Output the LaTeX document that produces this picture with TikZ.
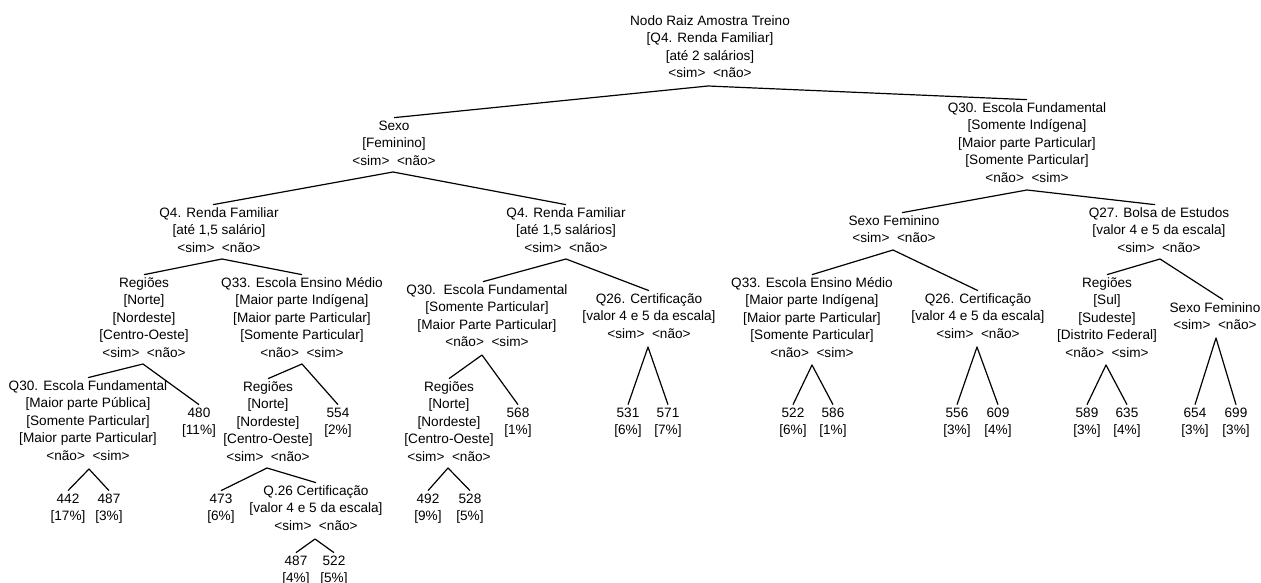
\documentclass[tikz,border=0pt]{standalone}
\usepackage{fontspec}
\setmainfont{Liberation Sans}
\newcommand{\tstrut}{\rule{0pt}{12.25pt}}
\tikzset{
  tn/.style={align=center, inner sep=0pt, anchor=north, yshift=7.35pt,
    font=\fontsize{13.6}{17.5}\selectfont},
  br/.style={line width=1.2pt, line join=round}
}
\begin{document}
\begin{tikzpicture}[x=1pt,y=1pt]
\useasboundingbox (0,0) rectangle (1261,-583);
% level 0
\node[tn] (root) at (710,-20) {\tstrut Nodo Raiz Amostra Treino\\{}[Q4. Renda Familiar]\\{}[até 2 salários]\\<sim>\ \ <não>};
% level 1
\node[tn] (sexo) at (394,-125) {\tstrut Sexo\\{}[Feminino]\\<sim>\ \ <não>};
\node[tn] (q30r) at (1027,-107) {\tstrut Q30. Escola Fundamental\\{}[Somente Indígena]\\{}[Maior parte Particular]\\{}[Somente Particular]\\<não>\ \ <sim>};
% level 2
\node[tn] (q4a) at (219,-212) {\tstrut Q4. Renda Familiar\\{}[até 1,5 salário]\\<sim>\ \ <não>};
\node[tn] (q4b) at (566,-212) {\tstrut Q4. Renda Familiar\\{}[até 1,5 salários]\\<sim>\ \ <não>};
\node[tn] (sfa) at (894,-220) {\tstrut Sexo Feminino\\<sim>\ \ <não>};
\node[tn] (q27) at (1159,-212) {\tstrut Q27. Bolsa de Estudos\\{}[valor 4 e 5 da escala]\\<sim>\ \ <não>};
% level 3
\node[tn] (rega) at (144,-282) {\tstrut Regiões\\{}[Norte]\\{}[Nordeste]\\{}[Centro-Oeste]\\<sim>\ \ <não>};
\node[tn] (q33a) at (302,-282) {\tstrut Q33. Escola Ensino Médio\\{}[Maior parte Indígena]\\{}[Maior parte Particular]\\{}[Somente Particular]\\<não>\ \ <sim>};
\node[tn] (q30m) at (487,-289) {\tstrut Q30.\ \ Escola Fundamental\\{}[Somente Particular]\\{}[Maior Parte Particular]\\<não>\ \ <sim>};
\node[tn] (q26m) at (649,-298) {\tstrut Q26. Certificação\\{}[valor 4 e 5 da escala]\\<sim>\ \ <não>};
\node[tn] (q33b) at (812,-282) {\tstrut Q33. Escola Ensino Médio\\{}[Maior parte Indígena]\\{}[Maior parte Particular]\\{}[Somente Particular]\\<não>\ \ <sim>};
\node[tn] (q26r) at (978,-298) {\tstrut Q26. Certificação\\{}[valor 4 e 5 da escala]\\<sim>\ \ <não>};
\node[tn] (regs) at (1107,-282) {\tstrut Regiões\\{}[Sul]\\{}[Sudeste]\\{}[Distrito Federal]\\<não>\ \ <sim>};
\node[tn] (sfb) at (1215,-307) {\tstrut Sexo Feminino\\<sim>\ \ <não>};
% level 4
\node[tn] (q30a) at (88,-385) {\tstrut Q30. Escola Fundamental\\{}[Maior parte Pública]\\{}[Somente Particular]\\{}[Maior parte Particular]\\<não>\ \ <sim>};
\node[tn] (l480) at (199,-412) {\tstrut 480\\{}[11\%]};
\node[tn] (regb) at (268,-386) {\tstrut Regiões\\{}[Norte]\\{}[Nordeste]\\{}[Centro-Oeste]\\<sim>\ \ <não>};
\node[tn] (l554) at (338,-412) {\tstrut 554\\{}[2\%]};
\node[tn] (regc) at (449,-386) {\tstrut Regiões\\{}[Norte]\\{}[Nordeste]\\{}[Centro-Oeste]\\<sim>\ \ <não>};
\node[tn] (l568) at (518,-412) {\tstrut 568\\{}[1\%]};
\node[tn] (l531) at (628,-412) {\tstrut 531\\{}[6\%]};
\node[tn] (l571) at (668,-412) {\tstrut 571\\{}[7\%]};
\node[tn] (l522a) at (793,-412) {\tstrut 522\\{}[6\%]};
\node[tn] (l586) at (833,-412) {\tstrut 586\\{}[1\%]};
\node[tn] (l556) at (957,-412) {\tstrut 556\\{}[3\%]};
\node[tn] (l609) at (998,-412) {\tstrut 609\\{}[4\%]};
\node[tn] (l589) at (1087,-412) {\tstrut 589\\{}[3\%]};
\node[tn] (l635) at (1127,-412) {\tstrut 635\\{}[4\%]};
\node[tn] (l654) at (1195,-412) {\tstrut 654\\{}[3\%]};
\node[tn] (l699) at (1236,-412) {\tstrut 699\\{}[3\%]};
% level 5
\node[tn] (l442) at (68,-498) {\tstrut 442\\{}[17\%]};
\node[tn] (l487a) at (109,-498) {\tstrut 487\\{}[3\%]};
\node[tn] (l473) at (221,-498) {\tstrut 473\\{}[6\%]};
\node[tn] (q26b) at (316,-490) {\tstrut Q.26 Certificação\\{}[valor 4 e 5 da escala]\\<sim>\ \ <não>};
\node[tn] (l492) at (428,-498) {\tstrut 492\\{}[9\%]};
\node[tn] (l528) at (470,-498) {\tstrut 528\\{}[5\%]};
% level 6
\node[tn] (l487b) at (296,-560) {\tstrut 487\\{}[4\%]};
\node[tn] (l522b) at (334,-560) {\tstrut 522\\{}[5\%]};
% branch points
\coordinate (rootB) at (708,-86);
\coordinate (sexoB) at (393,-172);
\coordinate (q30rB) at (1027,-190);
\coordinate (q4aB) at (222,-259);
\coordinate (q4bB) at (566,-259);
\coordinate (sfaB) at (893,-250);
\coordinate (q27B) at (1160,-259);
\coordinate (regaB) at (143,-364);
\coordinate (q33aB) at (302,-364);
\coordinate (q30mB) at (482,-355);
\coordinate (q26mB) at (648,-347);
\coordinate (q33bB) at (812,-365);
\coordinate (q26rB) at (977,-347);
\coordinate (regsB) at (1106,-365);
\coordinate (sfbB) at (1216,-338);
\coordinate (q30aB) at (89,-469);
\coordinate (regbB) at (267,-468);
\coordinate (regcB) at (448,-468);
\coordinate (q26bB) at (315,-539);
% connectors
\draw[br] (sexo.north) -- (rootB) -- (q30r.north);
\draw[br] ([xshift=-6pt]q4a.north) -- (sexoB) -- (q4b.north);
\draw[br] ([xshift=8pt]sfa.north) -- (q30rB) -- ([xshift=-4pt]q27.north);
\draw[br] (rega.north) -- (q4aB) -- (q33a.north);
\draw[br] ([xshift=-4pt]q30m.north) -- (q4bB) -- (q26m.north);
\draw[br] (q33b.north) -- (sfaB) -- (q26r.north);
\draw[br] (regs.north) -- (q27B) -- ([xshift=8pt]sfb.north);
\draw[br] (q30a.north) -- (regaB) -- (l480.north);
\draw[br] (regb.north) -- (q33aB) -- (l554.north);
\draw[br] (regc.north) -- (q30mB) -- (l568.north);
\draw[br] (l531.north) -- (q26mB) -- (l571.north);
\draw[br] (l522a.north) -- (q33bB) -- (l586.north);
\draw[br] (l556.north) -- (q26rB) -- (l609.north);
\draw[br] (l589.north) -- (regsB) -- (l635.north);
\draw[br] (l654.north) -- (sfbB) -- (l699.north);
\draw[br] (l442.north) -- (q30aB) -- (l487a.north);
\draw[br] (l473.north) -- (regbB) -- (q26b.north);
\draw[br] (l492.north) -- (regcB) -- (l528.north);
\draw[br] (l487b.north) -- (q26bB) -- (l522b.north);
\end{tikzpicture}
\end{document}
